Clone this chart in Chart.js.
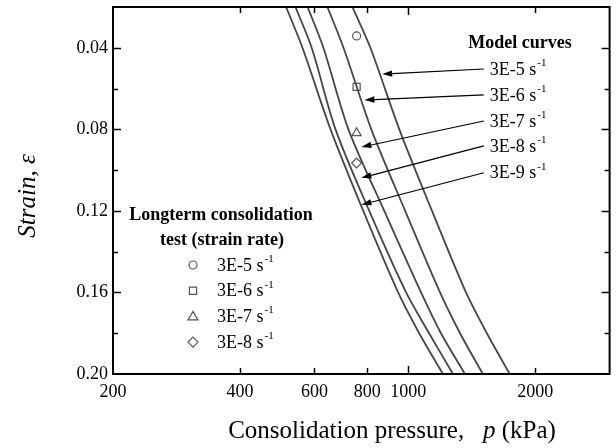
<!DOCTYPE html>
<html><head><meta charset="utf-8">
<script src="https://cdn.jsdelivr.net/npm/chart.js@4/dist/chart.umd.min.js"></script>
<style>html,body{margin:0;padding:0;background:#fff;}#wrap{width:616px;height:448px;}</style>
</head><body><div id="wrap"><canvas id="c" width="616" height="448"></canvas></div>
<script>
// ---- data ----
const strainLevels = [0.02, 0.04, 0.08, 0.12, 0.16, 0.18, 0.20];
const curve3E5 = [738, 814, 953, 1139, 1371, 1536, 1740];
const curve3E6 = [644, 703, 818, 984, 1190, 1327, 1503];
const curve3E7 = [578, 630, 722, 878, 1073, 1196, 1363];
const curve3E8 = [541, 591, 673, 809, 989, 1121, 1277];
const curve3E9 = [514, 562, 655, 783, 947, 1062, 1209];
const modelRates = ['3E-5', '3E-6', '3E-7', '3E-8', '3E-9'];

const testRates = ['3E-5', '3E-6', '3E-7', '3E-8'];
const testPressure = [755, 755, 755, 755];
const testStrain = [0.0342, 0.0592, 0.0818, 0.0965];
const testStyles = ['circle', 'rect', 'triangle', 'rectRot'];

// arrow tips (on curves) and arrow tails (at labels), data units
const arrowTipP = [868, 788, 775, 775, 775];
const arrowTipStrain = [0.0529, 0.0656, 0.0887, 0.1038, 0.117];
const arrowTailP = 1511;
const arrowTailStrain = [0.0504, 0.0631, 0.0759, 0.0881, 0.1013];

const xTickValues = [200, 400, 600, 800, 1000, 2000, 3000];
const xTickLabels = [200, 400, 600, 800, 1000, 2000];
const yTickValues = [0.02, 0.04, 0.06, 0.08, 0.10, 0.12, 0.14, 0.16, 0.18, 0.20];
const yTickLabels = [0.04, 0.08, 0.12, 0.16, 0.20];

const SERIF = '"Liberation Serif","Times New Roman",Times,serif';
const curveColor = '#464646';
const markerColor = '#555555';

function pts(ps) { return ps.map((p, i) => ({x: p, y: strainLevels[i]})); }
function near(a, list) { return list.some(v => Math.abs(v - a) < 1e-6); }
function zeroPad(s) { s.paddingTop = 0; s.paddingBottom = 0; s.paddingLeft = 0; s.paddingRight = 0; }

function curveDs(ps) {
  return {data: pts(ps), showLine: true, borderColor: curveColor, borderWidth: 1.8,
          pointRadius: 0, tension: 0.3, fill: false};
}

function drawRate(ctx, rate, x, y, size) {
  ctx.save();
  ctx.fillStyle = '#000';
  ctx.textBaseline = 'middle';
  ctx.textAlign = 'left';
  ctx.font = size + 'px ' + SERIF;
  const t = rate + ' s';
  ctx.fillText(t, x, y);
  const w = ctx.measureText(t).width;
  ctx.font = Math.round(size * 0.62) + 'px ' + SERIF;
  ctx.fillText('-1', x + w + 1, y - size * 0.38);
  ctx.restore();
}

function drawMarker(ctx, style, x, y) {
  ctx.save();
  ctx.strokeStyle = markerColor;
  ctx.lineWidth = 1.2;
  ctx.beginPath();
  if (style === 'circle') ctx.arc(x, y, 4, 0, Math.PI * 2);
  else if (style === 'rect') ctx.rect(x - 3.6, y - 3.6, 7.2, 7.2);
  else if (style === 'triangle') { ctx.moveTo(x, y - 5); ctx.lineTo(x + 5, y + 3.5); ctx.lineTo(x - 5, y + 3.5); ctx.closePath(); }
  else { ctx.moveTo(x, y - 5); ctx.lineTo(x + 5, y); ctx.lineTo(x, y + 5); ctx.lineTo(x - 5, y); ctx.closePath(); }
  ctx.stroke();
  ctx.restore();
}

const decor = {
  id: 'decor',
  afterDatasetsDraw(chart) {
    const ctx = chart.ctx, a = chart.chartArea;
    const xs = chart.scales.x, ys = chart.scales.y;
    ctx.save();
    ctx.strokeStyle = '#000';
    ctx.lineWidth = 2;
    ctx.strokeRect(a.left, a.top, a.right - a.left, a.bottom - a.top);
    ctx.lineWidth = 1.5;
    ctx.beginPath();
    xTickValues.forEach(v => {
      if (v === 200 || v === 3000) return;
      const px = Math.round(xs.getPixelForValue(v)) + 0.5;
      const L = (v === 1000) ? 8 : 6;
      ctx.moveTo(px, a.bottom); ctx.lineTo(px, a.bottom - L);
      ctx.moveTo(px, a.top); ctx.lineTo(px, a.top + L);
    });
    yTickValues.forEach(v => {
      if (Math.abs(v - 0.02) < 1e-6 || Math.abs(v - 0.20) < 1e-6) return;
      const py = Math.round(ys.getPixelForValue(v)) + 0.5;
      const L = near(v, yTickLabels) ? 8 : 5;
      ctx.moveTo(a.left, py); ctx.lineTo(a.left + L, py);
      ctx.moveTo(a.right, py); ctx.lineTo(a.right - L, py);
    });
    ctx.stroke();

    ctx.fillStyle = '#000';
    ctx.textBaseline = 'middle';
    const part1 = 'Consolidation pressure,   ';
    const part3 = ' (kPa)';
    ctx.font = '25px ' + SERIF;
    const w1 = ctx.measureText(part1).width, w3 = ctx.measureText(part3).width;
    ctx.font = 'italic 25px ' + SERIF;
    const w2 = ctx.measureText('p').width;
    let tx = 392 - (w1 + w2 + w3) / 2;
    const ty = 431;
    ctx.textAlign = 'left';
    ctx.font = '25px ' + SERIF; ctx.fillText(part1, tx, ty); tx += w1;
    ctx.font = 'italic 25px ' + SERIF; ctx.fillText('p', tx, ty); tx += w2;
    ctx.font = '25px ' + SERIF; ctx.fillText(part3, tx, ty);

    ctx.save();
    ctx.translate(28, 196);
    ctx.rotate(-Math.PI / 2);
    ctx.textAlign = 'center';
    ctx.font = 'italic 25px ' + SERIF;
    ctx.fillText('Strain, \u03B5', 0, 0);
    ctx.restore();

    ctx.font = 'bold 18px ' + SERIF;
    ctx.textAlign = 'center';
    ctx.fillText('Model curves', a.left + 407, a.top + 36);
    ctx.strokeStyle = '#000';
    ctx.fillStyle = '#000';
    ctx.lineWidth = 1.2;
    modelRates.forEach((r, i) => {
      const x1 = xs.getPixelForValue(arrowTailP), y1 = ys.getPixelForValue(arrowTailStrain[i]);
      const x2 = xs.getPixelForValue(arrowTipP[i]), y2 = ys.getPixelForValue(arrowTipStrain[i]);
      const ang = Math.atan2(y2 - y1, x2 - x1);
      const hl = 10, hw = 3.2;
      const bx = x2 - hl * Math.cos(ang), by = y2 - hl * Math.sin(ang);
      ctx.beginPath(); ctx.moveTo(x1, y1); ctx.lineTo(bx, by); ctx.stroke();
      ctx.beginPath();
      ctx.moveTo(x2, y2);
      ctx.lineTo(bx + hw * Math.sin(ang), by - hw * Math.cos(ang));
      ctx.lineTo(bx - hw * Math.sin(ang), by + hw * Math.cos(ang));
      ctx.closePath(); ctx.fill();
      drawRate(ctx, r, x1 + 6, y1 + 1, 18);
    });

    ctx.fillStyle = '#000';
    ctx.textAlign = 'center';
    ctx.font = 'bold 18px ' + SERIF;
    ctx.fillText('Longterm consolidation', a.left + 108, a.top + 208);
    ctx.fillText('test (strain rate)', a.left + 109, a.top + 233);
    testRates.forEach((r, i) => {
      const yy = a.top + 258 + i * 25.7;
      drawMarker(ctx, testStyles[i], a.left + 80, yy);
      drawRate(ctx, r, a.left + 104, yy + 1, 18);
    });
    ctx.restore();
  }
};

new Chart(document.getElementById('c'), {
  type: 'scatter',
  data: {
    datasets: [
      curveDs(curve3E5), curveDs(curve3E6), curveDs(curve3E7), curveDs(curve3E8), curveDs(curve3E9),
      {data: testPressure.map((p, i) => ({x: p, y: testStrain[i]})), showLine: false,
       pointStyle: testStyles, pointRadius: [4, 5, 5.2, 5], borderColor: markerColor,
       backgroundColor: 'rgba(255,255,255,0)', borderWidth: 1.2}
    ]
  },
  options: {
    responsive: false, animation: false, devicePixelRatio: 1,
    layout: {padding: {left: 0, right: 2, top: 7, bottom: 0}},
    plugins: {legend: {display: false}, tooltip: {enabled: false}},
    scales: {
      x: {
        type: 'logarithmic', min: 200, max: 3000, position: 'bottom',
        grid: {display: false, drawTicks: false}, border: {display: false},
        ticks: {font: {family: SERIF, size: 18}, color: '#000', padding: 7, maxRotation: 0, autoSkip: false,
                callback: v => xTickLabels.includes(v) ? String(v) : ''},
        afterBuildTicks: s => { s.ticks = xTickValues.map(v => ({value: v})); },
        afterFit: s => { s.height = 74; zeroPad(s); }
      },
      y: {
        type: 'linear', reverse: true, min: 0.02, max: 0.20,
        grid: {display: false, drawTicks: false}, border: {display: false},
        ticks: {font: {family: SERIF, size: 18}, color: '#000', padding: 5, autoSkip: false,
                callback: v => near(v, yTickLabels) ? v.toFixed(2) : ''},
        afterBuildTicks: s => { s.ticks = yTickValues.map(v => ({value: v})); },
        afterFit: s => { s.width = 113; zeroPad(s); }
      }
    }
  },
  plugins: [decor]
});
</script></body></html>
